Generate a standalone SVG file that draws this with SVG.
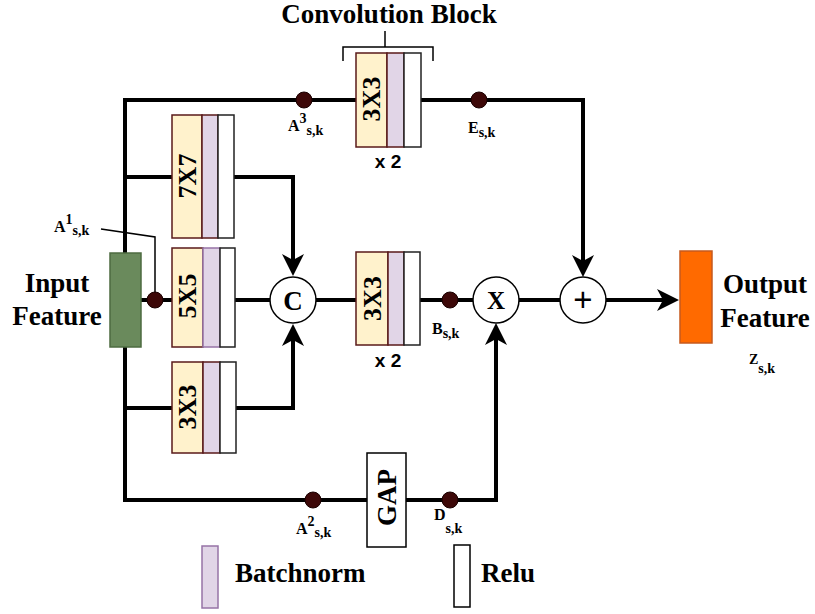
<svg xmlns="http://www.w3.org/2000/svg" width="815" height="614" viewBox="0 0 815 614">
<defs>
<style>
.ln{fill:none;stroke:#000;stroke-width:4;stroke-linejoin:miter}
.thin{fill:none;stroke:#000;stroke-width:1.5}
.yel{fill:#fff2cc;stroke:#5a1a1a;stroke-width:1.5}
.pur{fill:#e1d5e7;stroke:#5a1a1a;stroke-width:1.5}
.pur2{fill:#e1d5e7;stroke:#9673a6;stroke-width:1.5}
.wht{fill:#fff;stroke:#222;stroke-width:1.5}
.dot{fill:#3d0808;stroke:#1a0000;stroke-width:1}
.circ{fill:#fff;stroke:#000;stroke-width:1.5}
.t{font-family:"Liberation Serif","Times New Roman",serif;font-weight:bold;fill:#000}
.big{font-size:27px}
.blk{font-size:26px}
.lab{font-size:16px}
.sm{font-size:14px}
.sans{font-family:"Liberation Sans",Arial,sans-serif;font-weight:bold;font-size:19px;fill:#000}
</style>
<marker id="ah" viewBox="-16 -13 26 26" refX="0" refY="0" markerWidth="26" markerHeight="26" markerUnits="userSpaceOnUse" orient="auto">
<path d="M8,0 L-14,-11 L-8,0 L-14,11 Z" fill="#000"/>
</marker>
</defs>
<rect width="815" height="614" fill="#fff"/>

<g id="connectors">
<path class="ln" d="M356,100 H125 V500 H367"/>
<path class="ln" d="M406,500 H496 V331" marker-end="url(#ah)"/>
<path class="ln" d="M421,100 H583 V269" marker-end="url(#ah)"/>
<path class="ln" d="M125,177 H172"/>
<path class="ln" d="M234,177 H293 V268" marker-end="url(#ah)"/>
<path class="ln" d="M141,300 H172"/>
<path class="ln" d="M235,300 H270"/>
<path class="ln" d="M125,408 H172"/>
<path class="ln" d="M236,408 H293 V332" marker-end="url(#ah)"/>
<path class="ln" d="M316,300 H356"/>
<path class="ln" d="M420,300 H473"/>
<path class="ln" d="M519,300 H560"/>
<path class="ln" d="M606,300 H671" marker-end="url(#ah)"/>
<polyline class="thin" points="101,229 155,237 155,294"/>
</g>

<g id="title">
<text class="t big" x="389" y="23" text-anchor="middle">Convolution Block</text>
<path class="thin" stroke-width="2" d="M385,31 V47 M343,61 V47 H433 V61"/>
</g>

<g id="input-feature">
<rect x="110" y="253" width="31" height="94" fill="#6a8a5c" stroke="#4d6b40" stroke-width="1.5"/>
<text class="t big" x="57" y="292" text-anchor="middle">Input</text>
<text class="t big" x="57" y="325" text-anchor="middle">Feature</text>
</g>

<g id="conv-top">
<rect class="yel" x="356" y="53" width="31" height="94"/>
<rect class="pur" x="387" y="53" width="17" height="94"/>
<rect class="wht" x="404" y="53" width="17" height="94"/>
<text class="t blk" transform="translate(371.5,99) rotate(-90)" text-anchor="middle" dy="0.34em">3X3</text>
<text class="sans" x="388" y="168" text-anchor="middle">x 2</text>
</g>

<g id="conv-7x7">
<rect class="yel" x="172" y="115" width="30" height="123"/>
<rect class="pur" x="202" y="115" width="16" height="123"/>
<rect class="wht" x="218" y="115" width="16" height="123"/>
<text class="t blk" transform="translate(187,176) rotate(-90)" text-anchor="middle" dy="0.34em">7X7</text>
</g>

<g id="conv-5x5">
<rect class="yel" x="172" y="248" width="31" height="99"/>
<rect class="pur2" x="203" y="248" width="17" height="99"/>
<rect class="wht" x="220" y="248" width="15" height="99"/>
<text class="t blk" transform="translate(187.5,296) rotate(-90)" text-anchor="middle" dy="0.34em">5X5</text>
</g>

<g id="conv-3x3-left">
<rect class="yel" x="172" y="362" width="31" height="91"/>
<rect class="pur" x="203" y="362" width="17" height="91"/>
<rect class="wht" x="220" y="362" width="16" height="91"/>
<text class="t blk" transform="translate(187.5,407) rotate(-90)" text-anchor="middle" dy="0.34em">3X3</text>
</g>

<g id="concat">
<circle class="circ" cx="293" cy="300" r="23"/>
<text class="t" font-size="27" x="293" y="309.5" text-anchor="middle">C</text>
</g>

<g id="conv-mid">
<rect class="yel" x="356" y="252" width="32" height="93"/>
<rect class="pur" x="388" y="252" width="16" height="93"/>
<rect class="wht" x="404" y="252" width="16" height="93"/>
<text class="t blk" transform="translate(372,298.5) rotate(-90)" text-anchor="middle" dy="0.34em">3X3</text>
<text class="sans" x="388" y="367" text-anchor="middle">x 2</text>
</g>

<g id="multiply">
<circle class="circ" cx="496" cy="300" r="23"/>
<text class="t" font-size="25" x="496" y="309" text-anchor="middle">X</text>
</g>

<g id="add">
<circle class="circ" cx="583" cy="300" r="23"/>
<text x="583" y="311" text-anchor="middle" font-family="Liberation Sans, Arial, sans-serif" font-size="33" fill="#000">+</text>
</g>

<g id="gap">
<rect x="367" y="453" width="39" height="94" fill="#fff" stroke="#000" stroke-width="1.5"/>
<text class="t big" transform="translate(386.5,497.5) rotate(-90)" text-anchor="middle" dy="0.34em">GAP</text>
</g>

<g id="output-feature">
<rect x="680" y="251" width="32" height="92" fill="#ff6a00" stroke="#c65a1e" stroke-width="1.5"/>
<text class="t big" x="765" y="293" text-anchor="middle">Output</text>
<text class="t big" x="765" y="327" text-anchor="middle">Feature</text>
<text class="t" x="749" y="364" font-size="14">Z<tspan font-size="14" dy="9">s,k</tspan></text>
</g>

<g id="points">
<circle class="dot" cx="155" cy="300" r="8"/>
<circle class="dot" cx="304" cy="100" r="8"/>
<circle class="dot" cx="479" cy="100" r="8"/>
<circle class="dot" cx="450" cy="300" r="8"/>
<circle class="dot" cx="313" cy="500" r="8"/>
<circle class="dot" cx="450" cy="500" r="8"/>
<text class="t lab" x="54" y="232">A<tspan class="sm" dy="-8">1</tspan><tspan class="sm" dy="11">s,k</tspan></text>
<text class="t lab" x="288" y="131">A<tspan class="sm" dy="-8">3</tspan><tspan class="sm" dy="12">s,k</tspan></text>
<text class="t lab" x="468" y="133">E<tspan class="sm" dy="4">s,k</tspan></text>
<text class="t lab" x="432" y="334">B<tspan class="sm" dy="4">s,k</tspan></text>
<text class="t lab" x="296" y="534">A<tspan class="sm" dy="-8">2</tspan><tspan class="sm" dy="11">s,k</tspan></text>
<text class="t lab" x="434" y="520">D<tspan class="sm" dy="13">s,k</tspan></text>
</g>

<g id="legend">
<rect class="pur2" x="202" y="546" width="16" height="62"/>
<text class="t big" x="235" y="582">Batchnorm</text>
<rect x="454" y="545" width="16" height="62" fill="#fff" stroke="#000" stroke-width="1.5"/>
<text class="t big" x="481" y="582">Relu</text>
</g>
</svg>
